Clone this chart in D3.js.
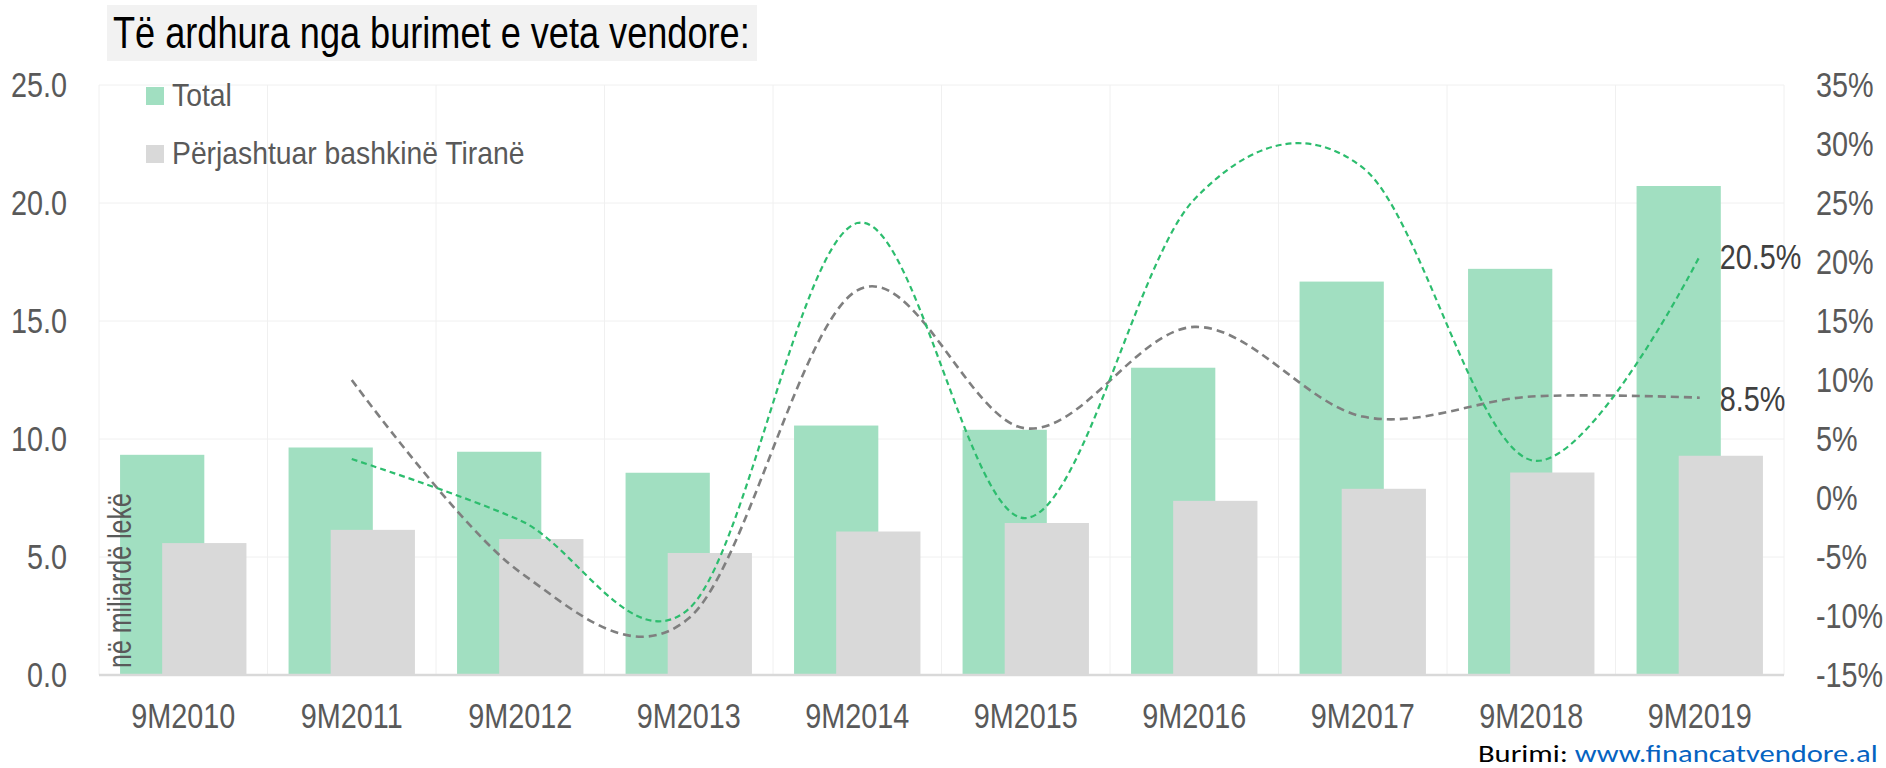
<!DOCTYPE html>
<html>
<head>
<meta charset="utf-8">
<script src="https://cdn.jsdelivr.net/npm/d3@7"></script>
<style>
  body { margin: 0; background: #ffffff; }
  svg { display: block; }
</style>
</head>
<body>
<svg id="chart" width="1886" height="768"></svg>
<script>
// ---------- DATA ----------
const categories = ["9M2010","9M2011","9M2012","9M2013","9M2014","9M2015","9M2016","9M2017","9M2018","9M2019"];
const totalRevenue = [9.33, 9.64, 9.46, 8.57, 10.57, 10.39, 13.02, 16.67, 17.21, 20.72];      // billion ALL
const exclTiranaRevenue = [5.59, 6.15, 5.76, 5.17, 6.08, 6.44, 7.38, 7.89, 8.58, 9.29];      // billion ALL
const totalGrowth = [null, 3.3, -1.9, -9.4, 23.3, -1.7, 25.3, 28.0, 3.2, 20.5];               // % y/y
const exclTiranaGrowth = [null, 10.0, -6.3, -10.2, 17.6, 5.9, 14.5, 6.9, 8.6, 8.5];          // % y/y
const leftTicks = [0, 5, 10, 15, 20, 25];
const rightTicks = [-15, -10, -5, 0, 5, 10, 15, 20, 25, 30, 35];
const seriesNames = ["Total", "Përjashtuar bashkinë Tiranë"];
const titleText = "Të ardhura nga burimet e veta vendore:";
const yAxisTitle = "në miliardë lekë";
const sourcePrefix = "Burimi: ";
const sourceUrl = "www.financatvendore.al";

// ---------- SETUP ----------
const svg = d3.select("#chart");
const FONT = "'Liberation Sans', Arial, sans-serif";
const NARROW = 0.8;
const C = {
  green: "#a1dfc1", grey: "#d9d9d9", greenLine: "#2dbd6e", greyLine: "#7f7f7f",
  axisText: "#595959", grid: "#f0f0f0", labelDark: "#404040"
};
const m = { left: 99, right: 1784, top: 85, bottom: 675 };

const x = d3.scaleBand().domain(categories).range([m.left, m.right]).padding(0);
const yL = d3.scaleLinear().domain([0, 25]).range([m.bottom, m.top]);
const yR = d3.scaleLinear().domain([-15, 35]).range([m.bottom, m.top]);
const bw = x.bandwidth();

// helper: text fitted to a given width (narrow font look)
function fitText(parent, str, o) {
  const g = parent.append("g")
    .attr("transform", `translate(${o.x},${o.y})` + (o.rotate ? ` rotate(${o.rotate})` : ""));
  const t = g.append("text")
    .attr("font-family", o.family || FONT)
    .attr("font-size", o.size)
    .attr("fill", o.fill || C.axisText)
    .attr("text-anchor", o.anchor || "start")
    .text(str);
  const natural = t.node().getComputedTextLength();
  const sx = o.width ? o.width / natural : (o.scale || NARROW);
  t.attr("transform", `scale(${sx},1)`);
  return t;
}

// ---------- GRID ----------
const grid = svg.append("g");
grid.selectAll("line.h").data(leftTicks.filter(d => d > 0)).join("line")
  .attr("x1", m.left).attr("x2", m.right)
  .attr("y1", d => yL(d)).attr("y2", d => yL(d))
  .attr("stroke", C.grid).attr("stroke-width", 1);
const vLines = categories.map(c => x(c)).concat([m.right]);
grid.selectAll("line.v").data(vLines).join("line")
  .attr("x1", d => d).attr("x2", d => d)
  .attr("y1", m.top).attr("y2", m.bottom)
  .attr("stroke", C.grid).attr("stroke-width", 1);

// ---------- BARS ----------
svg.append("g").selectAll("rect").data(totalRevenue).join("rect")
  .attr("x", (d, i) => x(categories[i]) + bw * 0.125)
  .attr("width", bw * 0.5)
  .attr("y", d => yL(d))
  .attr("height", d => yL(0) - yL(d))
  .attr("fill", C.green);
svg.append("g").selectAll("rect").data(exclTiranaRevenue).join("rect")
  .attr("x", (d, i) => x(categories[i]) + bw * 0.375)
  .attr("width", bw * 0.5)
  .attr("y", d => yL(d))
  .attr("height", d => yL(0) - yL(d))
  .attr("fill", C.grey);

// baseline
svg.append("line")
  .attr("x1", m.left).attr("x2", m.right)
  .attr("y1", yL(0)).attr("y2", yL(0))
  .attr("stroke", "#d9d9d9").attr("stroke-width", 2.5);

// ---------- AXES ----------
const axL = svg.append("g").attr("transform", `translate(${m.left},0)`)
  .call(d3.axisLeft(yL).tickValues(leftTicks).tickFormat(d3.format(".1f")).tickSize(0).tickPadding(32));
const axR = svg.append("g").attr("transform", `translate(${m.right},0)`)
  .call(d3.axisRight(yR).tickValues(rightTicks).tickFormat(d => d + "%").tickSize(0).tickPadding(32));
const axB = svg.append("g").attr("transform", `translate(0,${m.bottom})`)
  .call(d3.axisBottom(x).tickSize(0).tickPadding(27));
[axL, axR, axB].forEach(a => {
  a.select(".domain").remove();
  a.selectAll("text")
    .attr("font-family", FONT).attr("font-size", 36).attr("fill", C.axisText)
    .attr("transform", `scale(${NARROW},1)`);
});
axL.selectAll("text").attr("x", -32 / NARROW);
axR.selectAll("text").attr("x", 32 / NARROW);

// ---------- LINES ----------
const cx = i => x(categories[i]) + bw / 2;
const lineGen = d3.line()
  .defined(d => d != null)
  .x((d, i) => cx(i))
  .y(d => yR(d))
  .curve(d3.curveCatmullRom.alpha(0));
svg.append("path").datum(exclTiranaGrowth)
  .attr("d", lineGen).attr("fill", "none")
  .attr("stroke", C.greyLine).attr("stroke-width", 2.6).attr("stroke-dasharray", "8,5");
svg.append("path").datum(totalGrowth)
  .attr("d", lineGen).attr("fill", "none")
  .attr("stroke", C.greenLine).attr("stroke-width", 2.2).attr("stroke-dasharray", "6,4");

// end labels
const last = categories.length - 1;
[totalGrowth, exclTiranaGrowth].forEach(s => {
  fitText(svg, d3.format(".1f")(s[last]) + "%", {
    x: cx(last) + 20, y: yR(s[last]) + 13, size: 36, fill: C.labelDark, scale: NARROW
  });
});

// ---------- TITLE ----------
svg.append("rect").attr("x", 107).attr("y", 5).attr("width", 650).attr("height", 56).attr("fill", "#f2f2f2");
fitText(svg, titleText, { x: 113, y: 48, size: 45, fill: "#000000", width: 637 });

// ---------- LEGEND ----------
const legColors = [C.green, C.grey];
const legY = [87, 145];
seriesNames.forEach((name, i) => {
  svg.append("rect").attr("x", 146).attr("y", legY[i]).attr("width", 18).attr("height", 18).attr("fill", legColors[i]);
  fitText(svg, name, { x: 172, y: legY[i] + 19, size: 32, fill: C.axisText, scale: 0.885 });
});

// ---------- Y AXIS TITLE ----------
fitText(svg, yAxisTitle, { x: 131, y: 668, size: 33, fill: C.axisText, rotate: -90, width: 175 });

// ---------- SOURCE ----------
{
  const g = svg.append("g").attr("transform", "translate(1478,762)");
  const t = g.append("text").attr("font-family", "Carlito, Lato, 'Open Sans', sans-serif").attr("font-size", 25);
  t.append("tspan").attr("fill", "#000000").text(sourcePrefix);
  t.append("tspan").attr("fill", "#0563c1").text(sourceUrl);
  const w = t.node().getComputedTextLength();
  t.attr("transform", `scale(${400 / w},1)`);
}
</script>
</body>
</html>
